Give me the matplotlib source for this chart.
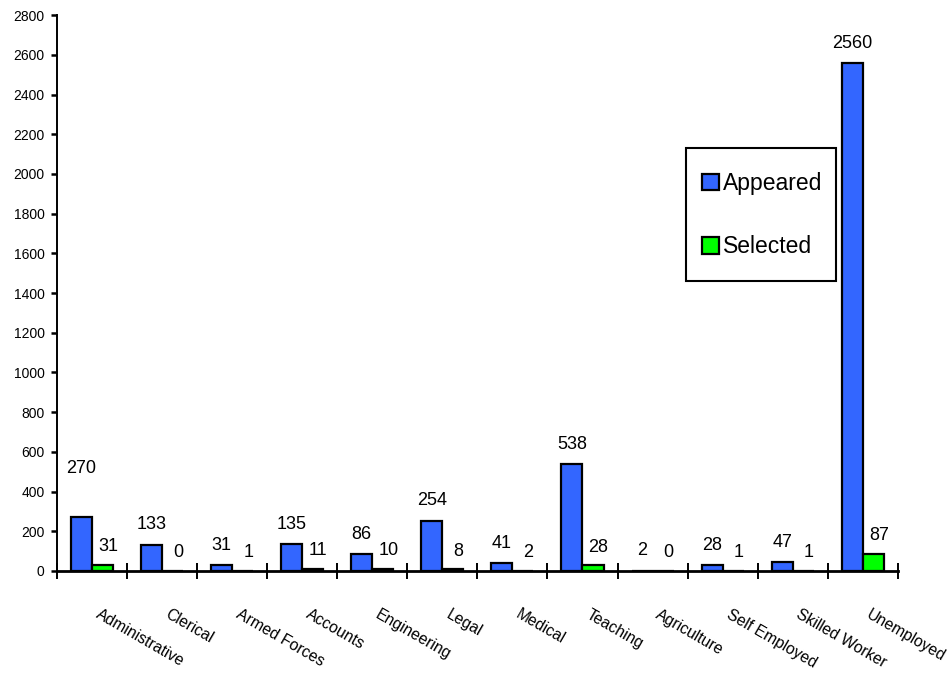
import matplotlib
matplotlib.use('Agg')
import matplotlib.pyplot as plt
from matplotlib.patches import Rectangle
import numpy as np

plt.rcParams['font.family'] = ['Liberation Sans', 'DejaVu Sans']

categories = ['Administrative', 'Clerical', 'Armed Forces', 'Accounts', 'Engineering',
              'Legal', 'Medical', 'Teaching', 'Agriculture', 'Self Employed',
              'Skilled Worker', 'Unemployed']
appeared = [270, 133, 31, 135, 86, 254, 41, 538, 2, 28, 47, 2560]
selected = [31, 0, 1, 11, 10, 8, 2, 28, 0, 1, 1, 87]
y_ticks = list(range(0, 2801, 200))

W, H = 951, 677
fig = plt.figure(figsize=(W / 100, H / 100), dpi=100)
ax = fig.add_axes([0.06, 0.1566, 0.884, 0.821])

x = np.arange(len(categories))
w = 0.3
b1 = ax.bar(x + 0.5 - w / 2, appeared, w, color='#3366FF', edgecolor='black',
            linewidth=1.6, label='Appeared')
b2 = ax.bar(x + 0.5 + w / 2, selected, w, color='#00FF00', edgecolor='black',
            linewidth=1.6, label='Selected')

# data labels
for i, v in enumerate(appeared):
    off = 8
    if i == 0:
        off = 29
    ax.annotate(str(v), (x[i] + 0.5 - w / 2, v), xytext=(0, off),
                textcoords='offset points', ha='center', va='bottom', fontsize=13)
for i, v in enumerate(selected):
    ax.annotate(str(v), (x[i] + 0.5 + w / 2, v), xytext=(4, 7),
                textcoords='offset points', ha='center', va='bottom', fontsize=13)

ax.set_xlim(0, len(categories))
ax.set_ylim(0, 2800)
ax.set_yticks(y_ticks)
ax.tick_params(axis='y', labelsize=10, direction='out', length=4, width=1.8, pad=5)

# category boundaries as ticks, labels placed separately
ax.set_xticks(np.arange(len(categories) + 1))
ax.set_xticklabels([])
ax.tick_params(axis='x', direction='inout', length=12, width=1.4)
for i, c in enumerate(categories):
    ax.text(x[i] + 0.62, -180, c, rotation=-30, rotation_mode='anchor',
            ha='left', va='top', fontsize=11.3)

for s in ['top', 'right']:
    ax.spines[s].set_visible(False)
ax.spines['left'].set_linewidth(1.4)
ax.spines['bottom'].set_linewidth(2)

# legend box (fixed size, like the original)
fig.patches.append(Rectangle((686 / W, 1 - 281 / H), 150 / W, 133 / H,
                             transform=fig.transFigure, facecolor='white',
                             edgecolor='black', linewidth=1.5, zorder=5))
leg = fig.legend(handles=[b1, b2], loc='upper left',
                 bbox_to_anchor=(702 / W, 1 - 172 / H), fontsize=16.5,
                 frameon=False, labelspacing=1.75,
                 handlelength=0.75, handleheight=0.75, handletextpad=0.15,
                 borderpad=0, borderaxespad=0)
leg.set_zorder(6)

fig.savefig('out.png', dpi=100)
